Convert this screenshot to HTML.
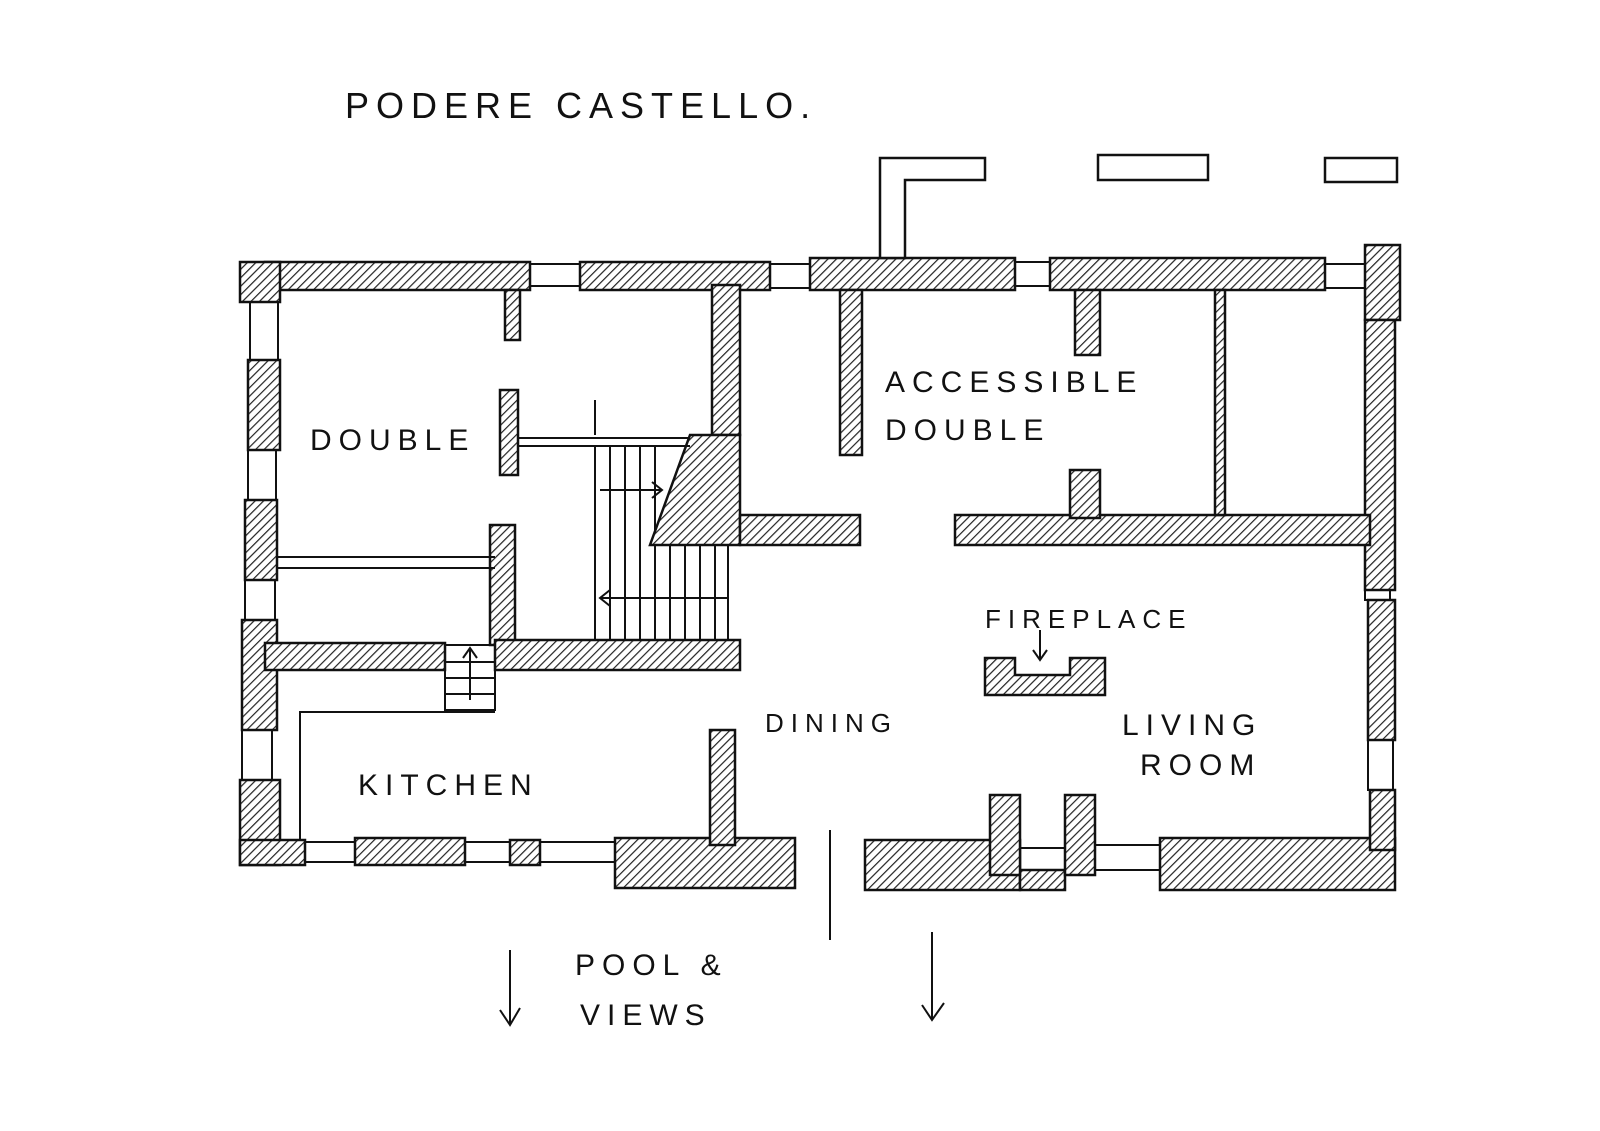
<!DOCTYPE html>
<html><head><meta charset="utf-8"><style>
html,body{margin:0;padding:0;background:#fff}
svg{display:block}
text{font-family:"Liberation Sans",sans-serif;fill:#111;letter-spacing:7px}
</style></head><body>
<svg width="1600" height="1131" viewBox="0 0 1600 1131" xmlns="http://www.w3.org/2000/svg">
<defs>
<pattern id="h" width="6" height="6" patternUnits="userSpaceOnUse" patternTransform="rotate(45)">
<rect width="6" height="6" fill="#fff"/><line x1="0" y1="0" x2="0" y2="6" stroke="#222" stroke-width="2.4"/>
</pattern>
</defs>
<g stroke="#111" stroke-width="2.5" fill="url(#h)">
<rect x="265" y="262" width="265" height="28"/>
<rect x="580" y="262" width="190" height="28"/>
<rect x="810" y="258" width="205" height="32"/>
<rect x="1050" y="258" width="275" height="32"/>
<rect x="1365" y="245" width="35" height="75"/>
<rect x="240" y="262" width="40" height="40"/>
<rect x="248" y="360" width="32" height="90"/>
<rect x="245" y="500" width="32" height="80"/>
<rect x="242" y="620" width="35" height="110"/>
<rect x="240" y="780" width="40" height="85"/>
<rect x="240" y="840" width="65" height="25"/>
<rect x="355" y="838" width="110" height="27"/>
<rect x="510" y="840" width="30" height="25"/>
<rect x="615" y="838" width="180" height="50"/>
<rect x="865" y="840" width="155" height="50"/>
<rect x="1020" y="870" width="45" height="20"/>
<rect x="1160" y="838" width="235" height="52"/>
<rect x="1365" y="320" width="30" height="270"/>
<rect x="1368" y="600" width="27" height="140"/>
<rect x="1370" y="790" width="25" height="60"/>
<rect x="505" y="290" width="15" height="50"/>
<rect x="500" y="390" width="18" height="85"/>
<rect x="712" y="285" width="28" height="150"/>
<polygon points="690,435 740,435 740,545 650,545"/>
<rect x="740" y="515" width="120" height="30"/>
<rect x="840" y="290" width="22" height="165"/>
<rect x="955" y="515" width="415" height="30"/>
<rect x="1070" y="470" width="30" height="48"/>
<rect x="1075" y="290" width="25" height="65"/>
<rect x="1215" y="290" width="10" height="225"/>
<rect x="490" y="525" width="25" height="120"/>
<rect x="265" y="643" width="180" height="27"/>
<rect x="495" y="640" width="245" height="30"/>
<rect x="710" y="730" width="25" height="115"/>
<rect x="990" y="795" width="30" height="80"/>
<rect x="1065" y="795" width="30" height="80"/>
<polygon points="985,658 1015,658 1015,675 1070,675 1070,658 1105,658 1105,695 985,695"/>
<polygon points="880,158 985,158 985,180 905,180 905,258 880,258" fill="#fff"/>
<rect x="1098" y="155" width="110" height="25" fill="#fff"/>
<rect x="1325" y="158" width="72" height="24" fill="#fff"/>
</g>
<g stroke="#111" stroke-width="2" fill="none">
<rect x="530" y="264" width="50" height="22"/><rect x="770" y="264" width="40" height="24"/>
<rect x="1015" y="262" width="35" height="24"/><rect x="1325" y="264" width="40" height="24"/>
<rect x="250" y="302" width="28" height="58"/><rect x="248" y="450" width="28" height="50"/>
<rect x="245" y="580" width="30" height="40"/><rect x="242" y="730" width="30" height="50"/>
<rect x="305" y="842" width="50" height="20"/><rect x="465" y="842" width="45" height="20"/>
<rect x="540" y="842" width="75" height="20"/><rect x="1095" y="845" width="65" height="25"/>
<rect x="1020" y="848" width="45" height="22"/>
<rect x="1365" y="590" width="25" height="10"/><rect x="1368" y="740" width="25" height="50"/>
<line x1="518" y1="438" x2="690" y2="438"/><line x1="518" y1="446" x2="690" y2="446"/>
<line x1="595" y1="400" x2="595" y2="435"/>
<line x1="277" y1="557" x2="495" y2="557"/><line x1="277" y1="568" x2="495" y2="568"/>
<polyline points="300,840 300,712 495,712"/>
<line x1="595" y1="445" x2="595" y2="640"/>
<line x1="610" y1="445" x2="610" y2="640"/><line x1="625" y1="445" x2="625" y2="640"/>
<line x1="640" y1="445" x2="640" y2="640"/><line x1="655" y1="445" x2="655" y2="530"/>
<line x1="655" y1="545" x2="655" y2="640"/><line x1="670" y1="545" x2="670" y2="640"/>
<line x1="685" y1="545" x2="685" y2="640"/><line x1="700" y1="545" x2="700" y2="640"/>
<line x1="715" y1="545" x2="715" y2="640"/><line x1="728" y1="545" x2="728" y2="640"/>
<line x1="600" y1="490" x2="662" y2="490"/><polyline points="652,482 662,490 652,498"/>
<line x1="600" y1="598" x2="728" y2="598"/><polyline points="610,590 600,598 610,606"/>
<rect x="445" y="645" width="50" height="65"/>
<line x1="445" y1="662" x2="495" y2="662"/><line x1="445" y1="678" x2="495" y2="678"/><line x1="445" y1="694" x2="495" y2="694"/>
<line x1="470" y1="700" x2="470" y2="650"/><polyline points="463,658 470,648 477,658"/>
<line x1="1040" y1="630" x2="1040" y2="660"/><polyline points="1033,650 1040,660 1047,650"/>
<line x1="830" y1="830" x2="830" y2="940"/>
<line x1="510" y1="950" x2="510" y2="1025"/><polyline points="500,1010 510,1025 520,1008"/>
<line x1="932" y1="932" x2="932" y2="1020"/><polyline points="922,1005 932,1020 944,1003"/>
</g>
<g font-size="30">
<text x="345" y="118" font-size="36" letter-spacing="12">PODERE CASTELLO.</text>
<text x="310" y="450">DOUBLE</text>
<text x="885" y="392">ACCESSIBLE</text>
<text x="885" y="440">DOUBLE</text>
<text x="985" y="628" font-size="26" letter-spacing="2">FIREPLACE</text>
<text x="765" y="732" font-size="26">DINING</text>
<text x="1122" y="735">LIVING</text>
<text x="1140" y="775">ROOM</text>
<text x="358" y="795">KITCHEN</text>
<text x="575" y="975">POOL &amp;</text>
<text x="580" y="1025">VIEWS</text>
</g>
</svg>
</body></html>
